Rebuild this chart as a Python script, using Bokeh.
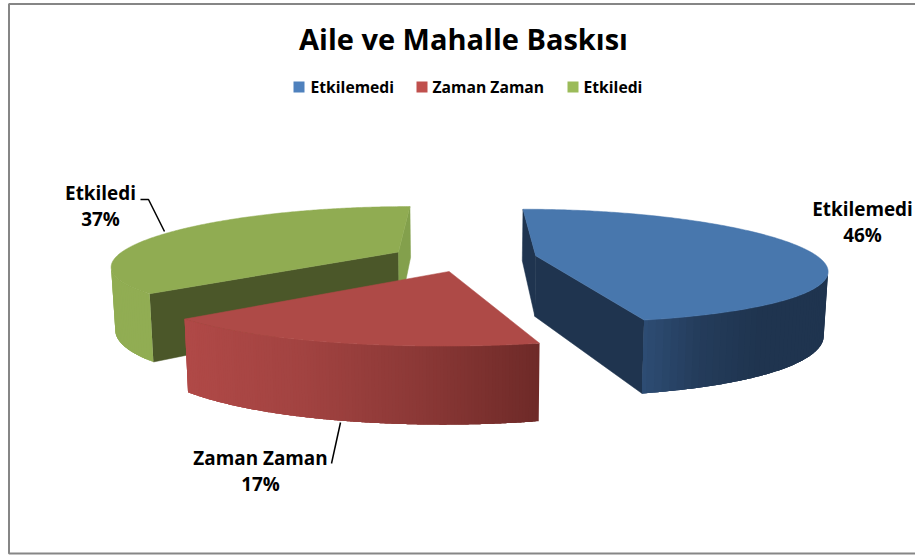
import numpy as np
from bokeh.plotting import figure
from bokeh.models import Range1d
from bokeh.core.properties import value
from bokeh.embed import file_html
from bokeh.resources import INLINE

title = "Aile ve Mahalle Baskısı"
categories = ["Etkilemedi", "Zaman Zaman", "Etkiledi"]
shares = [46, 17, 37]
legend_colors = ["#4f81bd", "#c0504d", "#9bbb59"]
top_colors = ["#4877ad", "#ae4a47", "#90ac52"]
start_wall_colors = ["#1f344f", "#6e2a28", "#4b5729"]
end_wall_colors = ["#1f344f", "#6e2a28", "#83a04c"]
rim_stops = [
    ([645, 700, 760], ["#2d4c73", "#243c5b", "#1f344f"]),
    ([185, 300, 420, 540], ["#b04947", "#a24341", "#8b3836", "#6e2a28"]),
    ([100, 170], ["#91ad53", "#91ad53"]),
]
draw_order = [2, 0, 1]

FONT = value("Open Sans")
CX, CY, A, B, KX, KY, EXPLODE, DEPTH, SHRINK = 464.5, 257, 283, 55.5, 0.225, 0.18, 0.25, 61, 0.988
slice_nudge = [1, 5, -3]


def project(X, Y, dx=0):
    sx = 1 / (1 - KX * Y)
    sy = 1 / (1 - KY * Y)
    x = CX + A * X * sx
    y = CY + B * Y * sy
    return x + dx, y, CX + (x - CX) * SHRINK + dx, y + DEPTH * sy


def hex_rgb(h):
    return np.array([int(h[i:i + 2], 16) for i in (1, 3, 5)], float)


def mix(xs, cols, x):
    arr = np.array([hex_rgb(c) for c in cols])
    rgb = [np.interp(x, xs, arr[:, i]) for i in range(3)]
    return "#%02x%02x%02x" % tuple(int(round(v)) for v in rgb)


p = figure(width=915, height=555, x_range=Range1d(0, 915), y_range=Range1d(555, 0),
           output_backend="svg", toolbar_location=None, min_border=0,
           x_axis_type=None, y_axis_type=None, outline_line_color=None,
           styles={"position": "absolute", "left": "0", "top": "0"})
p.grid.visible = False

# chart frame
p.line([915, 8.5, 8.5, 915], [3.5, 3.5, 553, 553], line_color="#868686", line_width=2)


def quad_area(q):
    xs, ys = zip(*q)
    n = len(q)
    return sum(xs[i] * ys[(i + 1) % n] - xs[(i + 1) % n] * ys[i] for i in range(n))


edges = np.cumsum([0] + shares) / sum(shares) * 2 * np.pi
for i in draw_order:
    t0, t1 = edges[i], edges[i + 1]
    tm = (t0 + t1) / 2
    ox, oy = EXPLODE * np.sin(tm), -EXPLODE * np.cos(tm)
    ts = np.linspace(t0, t1, 241)
    rim = [project(ox + np.sin(t), oy - np.cos(t), slice_nudge[i]) for t in ts]
    c = project(ox, oy, slice_nudge[i])

    def wall(a, b, color):
        q = [(a[0], a[1]), (b[0], b[1]), (b[2], b[3]), (a[2], a[3])]
        if quad_area(q) < 0:
            xs, ys = zip(*q)
            p.patch(list(xs), list(ys), fill_color=color, line_color=color, line_width=0.5)

    wall(c, rim[0], start_wall_colors[i])
    wall(rim[-1], c, end_wall_colors[i])

    # rim: overlapping bands so no seams show between neighbouring colours
    sx, sc = rim_stops[i]
    vis = []
    for a, b in zip(rim[:-1], rim[1:]):
        q = [(a[0], a[1]), (b[0], b[1]), (b[2], b[3]), (a[2], a[3])]
        vis.append(quad_area(q) < 0)
    idx = [j for j, v in enumerate(vis) if v]
    if idx:
        lo, hi = idx[0], idx[-1] + 1
        band = 2
        for j in range(lo, hi, band):
            seg = rim[j:min(j + 3 * band, hi) + 1]
            xs = [r[0] for r in seg] + [r[2] for r in reversed(seg)]
            ys = [r[1] for r in seg] + [r[3] for r in reversed(seg)]
            col = mix(sx, sc, rim[min(j + band // 2, hi)][0])
            p.patch(xs, ys, fill_color=col, line_color=None)

    tx = [c[0]] + [r[0] for r in rim]
    ty = [c[1]] + [r[1] for r in rim]
    p.patch(tx, ty, fill_color=top_colors[i], line_color=top_colors[i], line_width=0.5)


def label(x, y, s, size, align="left"):
    p.text([x], [y], text=[s], text_font=FONT, text_font_style="bold",
           text_font_size=size, text_align=align, text_baseline="middle", text_color="#000000")


label(463, 38, title, "29px", "center")

legend_sq_x = [293, 416, 567]
legend_tx_x = [310, 432, 583]
for cat, col, sq, tx in zip(categories, legend_colors, legend_sq_x, legend_tx_x):
    p.quad(left=[sq], right=[sq + 11], top=[81], bottom=[92], fill_color=col, line_color=None)
    label(tx, 86, cat, "15.7px")

label_xy = [(862, 208, 234), (260, 457, 483), (100, 192, 218)]
for cat, sh, (x, y1, y2) in zip(categories, shares, label_xy):
    label(x, y1, cat, "18.9px", "center")
    label(x, y2, f"{sh}%", "18.9px", "center")

p.line([140, 148, 164], [199, 199, 231], line_color="#000000", line_width=1.5)
p.line([340, 331], [422, 463], line_color="#000000", line_width=1.5)

open("out.html", "w").write(file_html(p, INLINE))
